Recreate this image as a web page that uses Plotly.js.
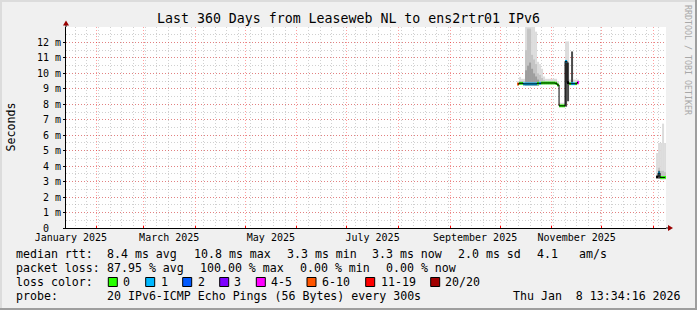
<!DOCTYPE html>
<html><head><meta charset="utf-8">
<script src="https://cdn.plot.ly/plotly-3.0.1.min.js"></script>
<style>html,body{margin:0;padding:0;background:#f0f0f0;overflow:hidden}#chart{width:697px;height:310px}</style>
</head><body><div id="chart"></div>
<script>
// ---- data (values in milliseconds) ----
const dates = ["2025-10-11 19:12","2025-10-13 00:00","2025-10-14 04:48","2025-10-15 09:36","2025-10-16 14:24",
 "2025-10-17 19:12","2025-10-19 00:00","2025-10-20 04:48","2025-10-21 09:36","2025-10-22 14:24",
 "2025-10-23 19:12","2025-10-25 00:00","2025-10-26 04:48","2025-10-27 09:36","2025-10-28 14:24",
 "2025-10-29 19:12","2025-10-31 00:00","2025-11-01 04:48","2025-11-02 09:36","2025-11-03 14:24",
 "2025-11-04 19:12","2025-11-06 00:00","2025-11-07 04:48","2025-11-08 09:36","2025-11-09 14:24",
 "2025-11-10 19:12","2025-11-12 00:00","2025-11-13 04:48","2025-11-14 09:36","2025-11-15 14:24",
 "2025-11-16 19:12","2025-12-01 00:00",
 "2026-01-03 04:48","2026-01-04 09:36","2026-01-05 14:24","2026-01-06 19:12","2026-01-08 00:00"];
const median = [9.31,9.36,9.36,9.32,9.32,9.32,9.32,9.32,9.32,9.32,
 9.36,9.36,9.38,9.38,9.38,9.38,9.38,9.38,9.38,9.36,
 9.25,7.90,7.90,7.90,10.78,9.40,9.33,9.33,9.33,9.33,
 9.41,null,
 3.30,3.55,3.27,3.27,3.27];
// loss class index: 0:"0" 1:"1" 2:"2" 3:"3" 4:"4-5" 5:"6-10" 6:"11-19" 7:"20/20", null = unclassified
const loss = [5,0,0,1,1,1,1,1,1,1,
 0,1,0,0,0,0,0,0,0,0,
 0,0,0,0,1,null,0,1,1,0,
 4,null,
 null,1,0,0,0];
const smokeLo = [9.20,9.25,9.25,9.20,9.20,9.20,9.20,9.20,9.20,9.20,
 9.20,9.25,9.28,9.28,9.28,9.28,9.28,9.28,9.28,9.28,
 9.15,7.80,7.80,7.80,7.85,8.20,9.25,9.25,9.25,9.25,
 9.25,null,
 3.20,3.20,3.15,3.15,3.15];
const smokeHi = [9.50,9.77,9.65,9.65,13.5,13.5,13.5,13.5,13.5,12.70,
 10.75,10.60,10.30,9.80,9.65,9.65,9.65,9.65,9.65,9.65,
 9.50,8.10,8.10,8.10,12.07,12.07,9.60,9.60,9.60,9.60,
 9.60,null,
 4.85,5.50,5.50,6.75,5.50];
const smokeMid = [null,9.50,9.50,9.50,11.50,12.90,12.90,11.20,10.90,10.60,
 10.00,9.90,9.70,9.55,9.50,9.50,9.50,9.50,9.50,9.50,
 null,null,null,null,null,null,null,null,null,null,
 null,null,
 null,3.90,3.70,3.70,3.60];
const smokeCore = [null,null,null,null,10.20,10.50,10.70,10.30,10.00,9.80,
 9.60,null,null,null,null,null,null,null,null,null,
 null,null,null,null,null,null,null,null,null,null,
 null,null,
 null,null,null,null,null];
const smokeDark = [null,null,null,null,null,null,null,null,null,null,
 null,null,null,null,null,null,null,null,null,null,
 null,null,null,null,10.75,10.70,null,11.42,null,null,
 null,null,
 null,3.70,null,null,null];

const lossColors = ['#26ff00','#00b8ff','#0059ff','#7e00ff','#ff00ff','#ff5500','#ff0000','#a10000'];
const lossLabels = ['0','1','2','3','4-5','6-10','11-19','20/20'];
const yTickVals = [0,1,2,3,4,5,6,7,8,9,10,11,12];
const yTickText = ['0\u00a0\u00a0','1 m','2 m','3 m','4 m','5 m','6 m','7 m','8 m','9 m','10 m','11 m','12 m'];
const rangeStart = '2025-01-13 13:34:16', rangeEnd = '2026-01-08 13:34:16';

const titleText = 'Last 360 Days from Leaseweb NL to ens2rtr01 IPv6';
const rttItems = ['median rtt:','8.4 ms avg','10.8 ms max','3.3 ms min','3.3 ms now','2.0 ms sd','4.1','am/s'];
const lossItems = ['packet loss:','87.95 % avg','100.00 % max','0.00 % min','0.00 % now'];
const probeItems = ['probe:','20 IPv6-ICMP Echo Pings (56 Bytes) every 300s','Thu Jan\u00a0\u00a08 13:34:16 2026'];

// ---- layout geometry ----
const L=66, T=27, PW=600, PH=201;
const xp = p => (p - L)/PW, yp = p => (T + PH - p)/PH;
const mono = 'DejaVu Sans Mono';
const W = 1.2*86400000;

function diff(top, lo){ return top.map((t,i)=> (t==null||lo[i]==null) ? null : t-lo[i]); }
function smoke(top, color){
  return {type:'bar', x:dates, base:smokeLo, y:diff(top, smokeLo), width:W,
    marker:{color:color, line:{width:0}}, hoverinfo:'skip', showlegend:false};
}
const traces = [
  smoke(smokeHi,'#dcdcdc'),
  smoke(smokeMid,'#c4c4c4'),
  smoke(smokeCore,'#9e9e9e'),
  smoke(smokeDark,'#4a4a4a'),
  {type:'scatter', mode:'lines', x:dates, y:median, line:{shape:'hvh', color:'#000', width:1},
   hoverinfo:'skip', showlegend:false},
  {type:'bar', x:dates, base:median.map(v=>v==null?null:v-0.09), y:median.map(v=>v==null?null:0.18), width:W,
   marker:{color:loss.map(c=>c==null?'#000':lossColors[c]), line:{width:0}}, hoverinfo:'skip', showlegend:false}
];

function txt(s, px, py, size, extra){
  return Object.assign({text:s, xref:'paper', yref:'paper', x:xp(px), y:yp(py), xanchor:'left', yanchor:'middle',
    showarrow:false, borderpad:0, font:{family:mono, size:size||11.6, color:'#000'}}, extra||{});
}
const ann = [];
const rttX = [16,107.3,194.3,286.7,372.3,458.3,536.7,579.3];
rttItems.forEach((s,i)=>ann.push(txt(s, rttX[i]-1, 254.3)));
const lossX = [16,107.3,200,300,385.7];
lossItems.forEach((s,i)=>ann.push(txt(s, lossX[i]-1, 268.3)));
ann.push(txt('loss color:', 15, 282.3));
const boxX = [108.3,145.7,182.7,219.7,256.3,307,365.7,430.7];
const labX = [123.3,160.7,197.7,234.3,271,322,380.7,445.3];
lossLabels.forEach((s,i)=>ann.push(txt(s, labX[i]-1, 282.3)));
const probeX = [16,107.3,513.3];
probeItems.forEach((s,i)=>ann.push(txt(s, probeX[i]-1, 296)));
ann.push(txt('Seconds', 10, 127.5, 11.6, {xanchor:'center', textangle:-90}));
ann.push(txt('RRDTOOL / TOBI OETIKER', 688, 60, 8.3, {xanchor:'center', textangle:90, font:{family:mono,size:8.3,color:'#a8a8a8'}}));

const shapes = [];
lossColors.forEach((c,i)=>shapes.push({type:'rect', xref:'paper', yref:'paper', x0:xp(boxX[i]), x1:xp(boxX[i]+9),
  y0:yp(286.5), y1:yp(277.5), fillcolor:c, line:{color:'#000', width:1}}));
// frame
function prect(x0,y0,x1,y1,c){ return {type:'rect', xref:'paper', yref:'paper', x0:xp(x0), x1:xp(x1), y0:yp(y1), y1:yp(y0), fillcolor:c, line:{width:0}, layer:'below'}; }
shapes.push(prect(0,0,697,2,'#dcdcdc'), prect(0,0,2,310,'#dcdcdc'), prect(0,308,697,310,'#9e9e9e'), prect(695,0,697,310,'#9e9e9e'));
// axis extensions and arrows
shapes.push({type:'line', xref:'paper', yref:'paper', x0:xp(666), x1:xp(669), y0:yp(228), y1:yp(228), line:{color:'#000', width:1}});
shapes.push({type:'line', xref:'paper', yref:'paper', x0:xp(66), x1:xp(66), y0:yp(27), y1:yp(24), line:{color:'#000', width:1}});
shapes.push({type:'path', xref:'paper', yref:'paper', fillcolor:'#990000', line:{width:0},
  path:`M ${xp(673)},${yp(228)} L ${xp(668)},${yp(225)} L ${xp(668)},${yp(231)} Z`});
shapes.push({type:'path', xref:'paper', yref:'paper', fillcolor:'#990000', line:{width:0},
  path:`M ${xp(66)},${yp(20.5)} L ${xp(63)},${yp(25.5)} L ${xp(69)},${yp(25.5)} Z`});

const gridRed = 'rgba(255,0,0,0.38)', gridGray = 'rgba(150,150,150,0.45)';
const layout = {
  width:697, height:310, margin:{l:L, r:697-L-PW, t:T, b:310-T-PH, pad:0},
  paper_bgcolor:'#f0f0f0', plot_bgcolor:'#ffffff', barmode:'overlay', showlegend:false,
  title:{text:titleText, font:{family:mono, size:13.25, color:'#000'}, xref:'container', yref:'container', x:0.5, y:1-18/310, xanchor:'center', yanchor:'middle'},
  xaxis:{type:'date', range:[rangeStart, rangeEnd], tickmode:'linear', tick0:'2025-01-01', dtick:'M1',
    ticklabelmode:'period', ticklabelstep:2, tickformat:'%B %Y',
    tickfont:{family:mono, size:10, color:'#000'},
    showgrid:true, gridcolor:gridRed, griddash:'1px,2px', gridwidth:1,
    ticks:'inside', ticklen:2, tickcolor:'#ff0000',
    minor:{tick0:'2025-01-19', dtick:604800000, showgrid:true, gridcolor:gridGray, griddash:'1px,2px', ticks:''},
    showline:true, linecolor:'#000', linewidth:1, zeroline:false, fixedrange:true},
  yaxis:{range:[0,13], tickmode:'array', tickvals:yTickVals, ticktext:yTickText,
    tickfont:{family:mono, size:10, color:'#000'},
    showgrid:true, gridcolor:gridRed, griddash:'1px,2px', gridwidth:1,
    ticks:'outside', ticklen:2, tickcolor:'#000',
    minor:{dtick:0.5, tick0:0, showgrid:true, gridcolor:gridGray, griddash:'1px,2px', ticks:''},
    showline:true, linecolor:'#000', linewidth:1, zeroline:false, fixedrange:true},
  annotations:ann, shapes:shapes
};
Plotly.newPlot('chart', traces, layout, {staticPlot:true, displayModeBar:false});
</script></body></html>
